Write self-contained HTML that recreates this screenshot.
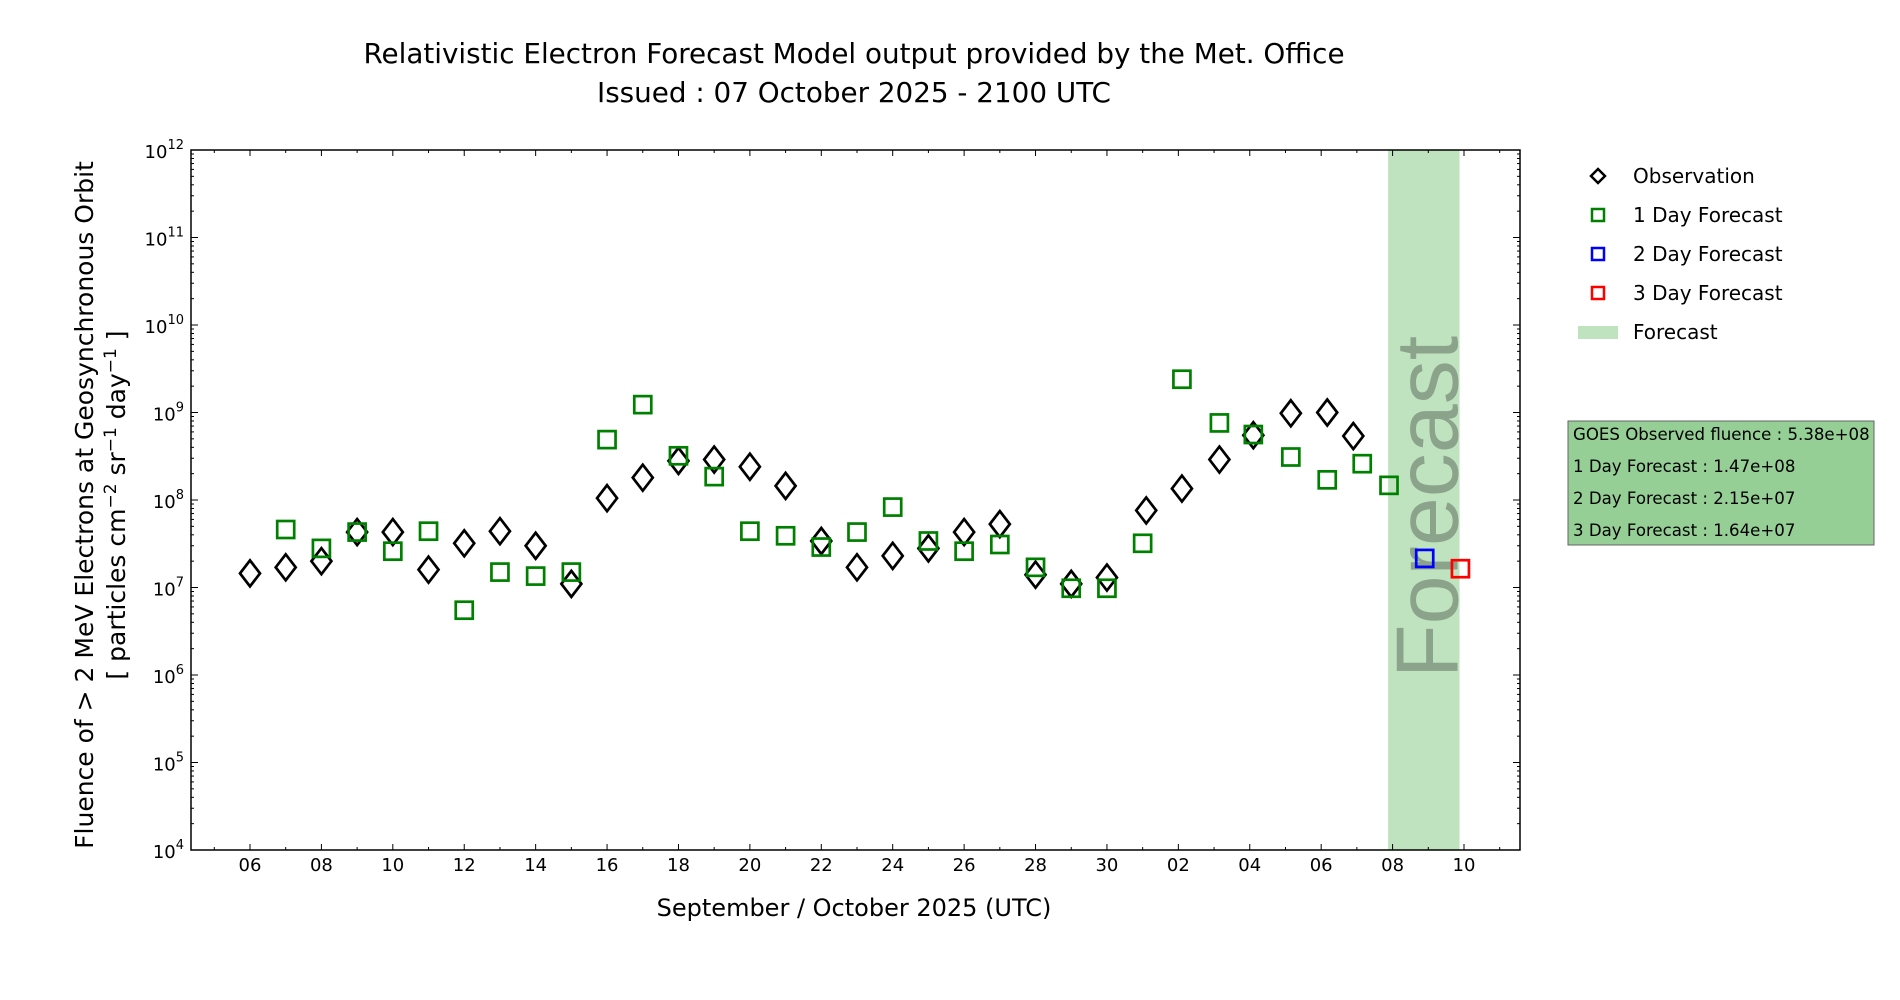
<!DOCTYPE html>
<html><head><meta charset="utf-8"><style>
html,body{margin:0;padding:0;background:#fff;}
svg{display:block;font-family:"DejaVu Sans","Liberation Sans",sans-serif;}
</style></head><body>
<svg id="chart" width="1900" height="1000" viewBox="0 0 1900 1000" xmlns="http://www.w3.org/2000/svg">
<text x="854" y="63" font-size="27.8" text-anchor="middle">Relativistic Electron Forecast Model output provided by the Met. Office</text>
<text x="854" y="102" font-size="27.8" text-anchor="middle">Issued : 07 October 2025 - 2100 UTC</text>
<g id="plot"></g>
<text x="854" y="916" font-size="24" text-anchor="middle">September / October 2025 (UTC)</text>
<text transform="translate(93,505) rotate(-90)" font-size="25" text-anchor="middle">Fluence of &gt; 2 MeV Electrons at Geosynchronous Orbit</text>
<text transform="translate(125,505) rotate(-90)" font-size="25" text-anchor="middle">[ particles cm<tspan font-size="17" dy="-9">−2</tspan><tspan dy="9"> sr</tspan><tspan font-size="17" dy="-9">−1</tspan><tspan dy="9"> day</tspan><tspan font-size="17" dy="-9">−1</tspan><tspan dy="9"> ]</tspan></text>
<g id="legend">
  <g><path d="M1598,169 l7,7 l-7,7 l-7,-7 z" fill="none" stroke="#000" stroke-width="2.5"/><text x="1633" y="183" font-size="20">Observation</text></g>
  <g><rect x="1592" y="209" width="12" height="12" fill="none" stroke="green" stroke-width="2.5"/><text x="1633" y="222" font-size="20">1 Day Forecast</text></g>
  <g><rect x="1592" y="248" width="12" height="12" fill="none" stroke="blue" stroke-width="2.5"/><text x="1633" y="261" font-size="20">2 Day Forecast</text></g>
  <g><rect x="1592" y="287" width="12" height="12" fill="none" stroke="red" stroke-width="2.5"/><text x="1633" y="300" font-size="20">3 Day Forecast</text></g>
  <g><rect x="1578" y="326" width="40" height="13" fill="#bfe3bf"/><text x="1633" y="339" font-size="20">Forecast</text></g>
</g>
<g>
  <rect x="1568" y="421" width="306" height="124" fill="#95cf95" stroke="#666" stroke-width="1"/>
  <text x="1573" y="440" font-size="16.6">GOES Observed fluence : 5.38e+08</text>
  <text x="1573" y="472" font-size="16.6">1 Day Forecast : 1.47e+08</text>
  <text x="1573" y="504" font-size="16.6">2 Day Forecast : 2.15e+07</text>
  <text x="1573" y="536" font-size="16.6">3 Day Forecast : 1.64e+07</text>
</g>
</svg>
<script>
// day index 0 = 06 Sep 2025
const obsDays = [0,1,2,3,4,5,6,7,8,9,10,11,12,13,14,15,16,17,18,19,20,21,22,23,24,25.1,26.1,27.15,28.1,29.15,30.17,30.9];
const obsValues = [1.45e7,1.7e7,2.0e7,4.3e7,4.3e7,1.6e7,3.2e7,4.4e7,3.0e7,1.1e7,1.05e8,1.8e8,2.8e8,2.9e8,2.4e8,1.45e8,3.4e7,1.7e7,2.3e7,2.8e7,4.3e7,5.3e7,1.4e7,1.1e7,1.3e7,7.6e7,1.35e8,2.9e8,5.5e8,9.8e8,1.0e9,5.38e8];
const f1Days = [1,2,3,4,5,6,7,8,9,10,11,12,13,14,15,16,17,18,19,20,21,22,23,24,25,26.1,27.15,28.1,29.15,30.17,31.15,31.9];
const f1Values = [4.6e7,2.8e7,4.3e7,2.6e7,4.4e7,5.5e6,1.5e7,1.35e7,1.5e7,4.9e8,1.23e9,3.2e8,1.85e8,4.4e7,3.9e7,2.9e7,4.3e7,8.3e7,3.4e7,2.6e7,3.1e7,1.7e7,9.8e6,9.8e6,3.2e7,2.4e9,7.6e8,5.6e8,3.1e8,1.7e8,2.6e8,1.47e8];
const f2Days = [32.9];
const f2Values = [2.15e7];
const f3Days = [33.9];
const f3Values = [1.64e7];
const forecastBand = [31.875, 33.875];
const xTickLabels = ["06","08","10","12","14","16","18","20","22","24","26","28","30","02","04","06","08","10"];
const yTickExps = [4,5,6,7,8,9,10,11,12];

const L=191,R=1520,T=150,B=850;
const X0=250, DAY=(1464-250)/34;
function xs(d){return X0+d*DAY;}
function ys(v){return B-(Math.log10(v)-4)*(B-T)/8;}
const NS="http://www.w3.org/2000/svg";
const plot=document.getElementById('plot');
function mk(tag,attrs,parent){const e=document.createElementNS(NS,tag);for(const k in attrs)e.setAttribute(k,attrs[k]);(parent||plot).appendChild(e);return e;}

const band=mk('rect',{x:xs(forecastBand[0]),y:T,width:xs(forecastBand[1])-xs(forecastBand[0]),height:B-T,fill:'#bfe3bf'});


const ft=mk('text',{transform:`translate(${xs(forecastBand[1])-2},${(T+B)/2+7}) rotate(-90)`,'font-size':88,'text-anchor':'middle',fill:'#6e806e','fill-opacity':0.65,'font-family':'Liberation Sans, sans-serif'});
ft.textContent='Forecast';



const frame=mk('rect',{x:L,y:T,width:R-L,height:B-T,fill:'none',stroke:'#000','stroke-width':1.5});



for(let d=-1;d<=35;d++){const x=xs(d);if(x<L||x>R)continue;
  const major=d%2===0;const len=major?6:3;
  mk('line',{x1:x,y1:B,x2:x,y2:B-len,stroke:'#000','stroke-width':1});
  mk('line',{x1:x,y1:T,x2:x,y2:T+len,stroke:'#000','stroke-width':1});
}
xTickLabels.forEach((lab,i)=>{const t=mk('text',{x:xs(i*2),y:871,'font-size':18,'text-anchor':'middle'});t.textContent=lab;
  
  });

yTickExps.forEach(e=>{const y=ys(Math.pow(10,e));
  mk('line',{x1:L,y1:y,x2:L+7,y2:y,stroke:'#000'});mk('line',{x1:R,y1:y,x2:R-7,y2:y,stroke:'#000'});
  const t=mk('text',{x:184,y:y+8,'font-size':18,'text-anchor':'end'});
  t.innerHTML='10<tspan font-size="13" dy="-9">'+e+'</tspan>';
  
  
  if(e<12){for(let m=2;m<10;m++){const ym=ys(m*Math.pow(10,e));
    mk('line',{x1:L,y1:ym,x2:L+3,y2:ym,stroke:'#000'});mk('line',{x1:R,y1:ym,x2:R-3,y2:ym,stroke:'#000'});}}
});

function squares(days,vals,color,name){days.forEach((d,i)=>{const x=xs(d),y=ys(vals[i]);
  const r=mk('rect',{x:x-8.5,y:y-8.5,width:17,height:17,fill:'none',stroke:color,'stroke-width':2.7});
  
  });}
obsDays.forEach((d,i)=>{const x=xs(d),y=ys(obsValues[i]);
  const p=mk('path',{d:`M${x},${y-13} L${x+10},${y} L${x},${y+13} L${x-10},${y} Z`,fill:'none',stroke:'#000','stroke-width':2.7});
  
  });
squares(f1Days,f1Values,'green','forecast-1day-point');
squares(f2Days,f2Values,'blue','forecast-2day-point');
squares(f3Days,f3Values,'red','forecast-3day-point');
</script>
</body></html>
